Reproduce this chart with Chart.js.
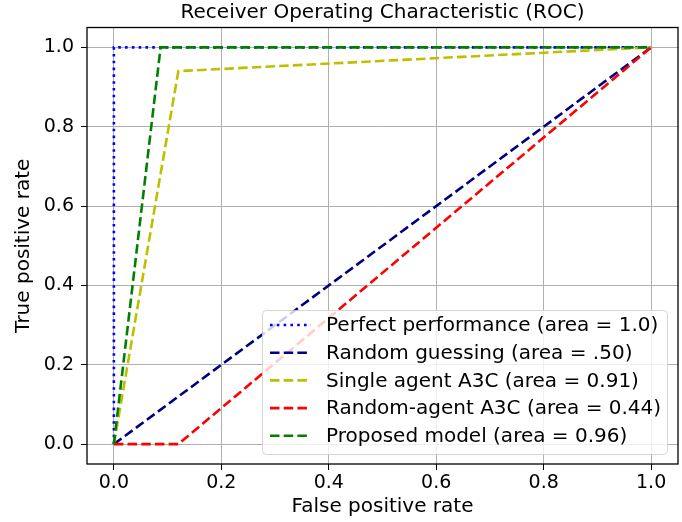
<!DOCTYPE html>
<html><head><meta charset="utf-8">
<script src="https://cdn.jsdelivr.net/npm/chart.js@4.4.1/dist/chart.umd.min.js"></script>
<style>html,body{margin:0;padding:0;background:#fff}#wrap{width:682px;height:522px}</style>
</head><body><div id="wrap"><canvas id="c" width="682" height="522"></canvas></div>
<script>
const titleText = "Receiver Operating Characteristic (ROC)";
const xLabel = "False positive rate";
const yLabel = "True positive rate";
const tickValues = [0, 0.2, 0.4, 0.6, 0.8, 1.0];
const seriesLabels = [
  "Perfect performance (area = 1.0)",
  "Random guessing (area = .50)",
  "Single agent A3C (area = 0.91)",
  "Random-agent A3C (area = 0.44)",
  "Proposed model (area = 0.96)"
];
const perfectX = [0, 0, 1],        perfectY = [0, 1, 1];
const randomX = [0, 1],            randomY = [0, 1];
const singleX = [0, 0.12, 1],      singleY = [0, 0.94, 1];
const randAgentX = [0, 0.12, 1],   randAgentY = [0, 0, 1];
const proposedX = [0, 0.087, 1],   proposedY = [0, 1, 1];

const seriesX = [perfectX, randomX, singleX, randAgentX, proposedX];
const seriesY = [perfectY, randomY, singleY, randAgentY, proposedY];
const colors = ['#0000ff', '#000080', '#bfbf00', '#ff0000', '#008000'];
const dashes = [[2.6, 4.2], [9.5, 4.2], [9.5, 4.2], [9.5, 4.2], [9.5, 4.2]];

const FONT = "'DejaVu Sans', sans-serif";

const datasets = seriesLabels.map((lab, i) => ({
  label: lab,
  data: seriesX[i].map((x, j) => ({x: x, y: seriesY[i][j]})),
  borderColor: colors[i],
  backgroundColor: colors[i],
  borderWidth: 2.6,
  borderDash: dashes[i],
  borderCapStyle: 'butt',
  pointRadius: 0,
  showLine: true,
  fill: false,
  tension: 0,
  order: seriesLabels.length - i
}));

const boxPlugin = {
  id: 'boxPlugin',
  afterDraw(chart) {
    const ctx = chart.ctx;
    const a = chart.chartArea;
    ctx.save();
    // legend
    const lx = 262.5, ly = 310.5, lw = 405, lh = 144, r = 4;
    ctx.beginPath();
    ctx.moveTo(lx + r, ly);
    ctx.lineTo(lx + lw - r, ly); ctx.arcTo(lx + lw, ly, lx + lw, ly + r, r);
    ctx.lineTo(lx + lw, ly + lh - r); ctx.arcTo(lx + lw, ly + lh, lx + lw - r, ly + lh, r);
    ctx.lineTo(lx + r, ly + lh); ctx.arcTo(lx, ly + lh, lx, ly + lh - r, r);
    ctx.lineTo(lx, ly + r); ctx.arcTo(lx, ly, lx + r, ly, r);
    ctx.closePath();
    ctx.fillStyle = 'rgba(255,255,255,0.8)';
    ctx.fill();
    ctx.strokeStyle = 'rgba(204,204,204,0.8)';
    ctx.lineWidth = 1;
    ctx.stroke();
    ctx.font = "20px " + FONT;
    ctx.textBaseline = 'middle';
    ctx.textAlign = 'left';
    chart.data.datasets.forEach((ds, i) => {
      const y = 325 + i * 27.7;
      ctx.beginPath();
      ctx.setLineDash(ds.borderDash);
      ctx.lineWidth = ds.borderWidth;
      ctx.strokeStyle = ds.borderColor;
      ctx.lineCap = 'butt';
      ctx.moveTo(270, y); ctx.lineTo(311, y);
      ctx.stroke();
      ctx.setLineDash([]);
      ctx.fillStyle = '#000';
      ctx.fillText(ds.label, 326, y + 1);
    });
    // frame
    ctx.strokeStyle = '#000';
    ctx.lineWidth = 1.3;
    ctx.strokeRect(a.left, a.top, a.right - a.left, a.bottom - a.top);
    ctx.restore();
  }
};

new Chart(document.getElementById('c'), {
  type: 'scatter',
  data: { datasets: datasets },
  plugins: [boxPlugin],
  options: {
    responsive: false,
    animation: false,
    layout: { padding: { left: 0, right: 4, top: 0, bottom: 0 } },
    plugins: {
      legend: { display: false },
      tooltip: { enabled: false },
      title: {
        display: true, text: titleText, color: '#000', fullSize: false,
        font: { family: FONT, size: 20, weight: 'normal' },
        padding: { top: 1, bottom: 2.5 }
      }
    },
    scales: {
      x: {
        type: 'linear', min: -0.05, max: 1.05,
        afterBuildTicks: s => { s.ticks = tickValues.map(v => ({value: v})); },
        afterFit: s => { s.height = 58; },
        ticks: { color: '#000', font: { family: FONT, size: 19 }, padding: 2,
                 callback: v => v.toFixed(1), maxRotation: 0 },
        grid: { color: '#b0b0b0', lineWidth: 1, tickColor: '#000', tickLength: 6, drawTicks: true },
        border: { display: false },
        title: { display: true, text: xLabel, color: '#000',
                 font: { family: FONT, size: 20 }, padding: { top: 0, bottom: 3 } }
      },
      y: {
        type: 'linear', min: -0.05, max: 1.05,
        afterBuildTicks: s => { s.ticks = tickValues.map(v => ({value: v})); },
        afterFit: s => { s.width = 87; },
        ticks: { color: '#000', font: { family: FONT, size: 19 }, padding: 7,
                 callback: v => v.toFixed(1) },
        grid: { color: '#b0b0b0', lineWidth: 1, tickColor: '#000', tickLength: 6, drawTicks: true },
        border: { display: false },
        title: { display: true, text: yLabel, color: '#000',
                 font: { family: FONT, size: 20 }, padding: { top: 12, bottom: 0 } }
      }
    }
  }
});
</script></body></html>
